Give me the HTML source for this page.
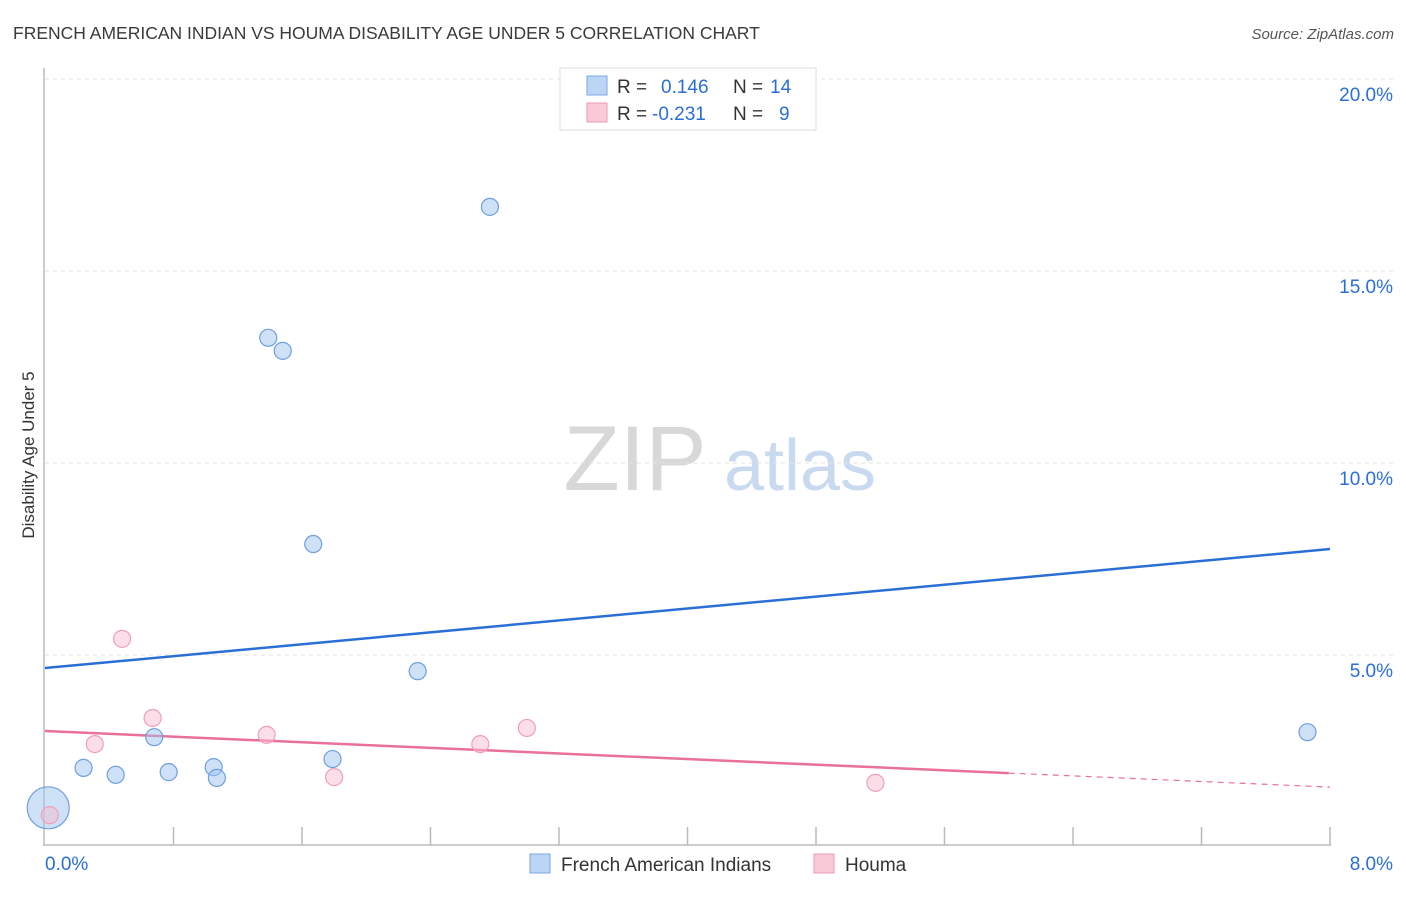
<!DOCTYPE html>
<html><head><meta charset="utf-8"><style>
body{margin:0;background:#fff;font-family:"Liberation Sans",sans-serif;}
svg text{font-family:"Liberation Sans",sans-serif;}
</style></head><body>
<svg id="chart" width="1406" height="892" xmlns="http://www.w3.org/2000/svg">
<text x="13" y="39" font-size="17.5" fill="#3a3a3a">FRENCH AMERICAN INDIAN VS HOUMA DISABILITY AGE UNDER 5 CORRELATION CHART</text>
<text x="1394" y="39" font-size="15" fill="#555" text-anchor="end" font-style="italic">Source: ZipAtlas.com</text>
<text transform="translate(34,455) rotate(-90)" font-size="17" fill="#333" text-anchor="middle">Disability Age Under 5</text>
<g>
<text x="635" y="490" font-size="92" fill="#d8d8d8" font-family="Liberation Serif" text-anchor="middle">ZIP</text>
<text x="800" y="490" font-size="72" fill="#c9daf0" text-anchor="middle">atlas</text>
</g>
<g id="grid"></g>
<g id="axes"></g>
<g id="lines"></g>
<g id="points"></g>
<g>
<rect x="560" y="68" width="256" height="62" fill="#fff" stroke="#ddd"/>
<rect x="587" y="76" width="20" height="19" fill="#bcd5f5" stroke="#7aa7e6"/>
<rect x="587" y="103" width="20" height="19" fill="#f9cbd8" stroke="#ec9ab2"/>
<text x="617" y="93" font-size="19" fill="#333">R =</text>
<text x="661" y="93" font-size="19" fill="#2a6fd6">0.146</text>
<text x="733" y="93" font-size="19" fill="#333">N =</text>
<text x="770" y="93" font-size="19" fill="#2a6fd6">14</text>
<text x="617" y="120" font-size="19" fill="#333">R =</text>
<text x="652" y="120" font-size="19" fill="#2a6fd6">-0.231</text>
<text x="733" y="120" font-size="19" fill="#333">N =</text>
<text x="779" y="120" font-size="19" fill="#2a6fd6">9</text>
</g>
<g>
<rect x="530" y="854" width="20" height="19" fill="#bcd5f5" stroke="#7aa7e6"/>
<text x="561" y="871" font-size="19" fill="#333">French American Indians</text>
<rect x="814" y="854" width="20" height="19" fill="#f9cbd8" stroke="#ec9ab2"/>
<text x="845" y="871" font-size="19" fill="#333">Houma</text>
</g>
</svg>
<script>
const yTicks=[5,10,15,20];
const yTickLabels=["5.0%","10.0%","15.0%","20.0%"];
const xTickLabels=["0.0%","8.0%"];
const blueX=[2.77,1.39,1.48,1.67,2.32,0.68,1.79,0.24,0.44,0.77,1.05,1.07,7.86,0.02];
const blueY=[16.67,13.26,12.92,7.89,4.58,2.86,2.29,2.06,1.88,1.95,2.08,1.80,2.99,1.02];
const pinkX=[0.48,0.67,0.31,1.38,1.80,2.71,3.00,5.17,0.03];
const pinkY=[5.42,3.36,2.68,2.92,1.82,2.68,3.10,1.67,0.83];
const blueLine=[4.66,7.76];
const pinkLine=[3.02,1.56];
const pinkSolidEnd=6.0;
const NS="http://www.w3.org/2000/svg";
const X0=45,X1=1330,Y0=847,Y20=79;
const sx=v=>X0+(X1-X0)*v/8;
const sy=v=>Y0-(Y0-Y20)*v/20;
function mk(t,a,p){const e=document.createElementNS(NS,t);for(const k in a)e.setAttribute(k,a[k]);document.getElementById(p).appendChild(e);return e;}
yTicks.forEach((t,i)=>{
 const l=mk('line',{x1:X0,x2:1394,y1:sy(t),y2:sy(t),stroke:'#e2e2e2','stroke-dasharray':'4,4'},'grid');
 
 
 const tx=mk('text',{x:1393,y:sy(t)+22,'font-size':19,fill:'#2a6fd6','text-anchor':'end'},'grid');
 tx.textContent=yTickLabels[i];
 
 
});
const ya=mk('line',{x1:44,x2:44,y1:68,y2:846,stroke:'#bbb','stroke-width':1.5},'axes');


const xa=mk('line',{x1:44,x2:1331,y1:845,y2:845,stroke:'#bbb','stroke-width':1.5},'axes');


for(let i=1;i<=10;i++){
 const v=i*0.8;
 const t=mk('line',{x1:sx(v),x2:sx(v),y1:827,y2:845,stroke:'#bbb','stroke-width':1.5},'axes');
 
 
}
[[0,'start',45],[8,'end',1393]].forEach((d,i)=>{
 const t=mk('text',{x:d[2],y:870,'font-size':19,fill:'#2a6fd6','text-anchor':d[1]},'axes');
 t.textContent=xTickLabels[i];
 
 
});
const bl=mk('line',{x1:sx(0),y1:sy(blueLine[0]),x2:sx(8),y2:sy(blueLine[1]),stroke:'#2a6fd6','stroke-width':2.5},'lines');


const pAt=v=>pinkLine[0]+(pinkLine[1]-pinkLine[0])*v/8;
const pl=mk('line',{x1:sx(0),y1:sy(pinkLine[0]),x2:sx(pinkSolidEnd),y2:sy(pAt(pinkSolidEnd)),stroke:'#e8709a','stroke-width':2.5},'lines');


const pd=mk('line',{x1:sx(pinkSolidEnd),y1:sy(pAt(pinkSolidEnd)),x2:sx(8),y2:sy(pinkLine[1]),stroke:'#e8709a','stroke-width':1.2,'stroke-dasharray':'6,5'},'lines');


blueX.forEach((x,i)=>{
 const big=i===blueX.length-1;
 const c=mk('circle',{cx:sx(x),cy:sy(blueY[i]),r:big?21:8.5,fill:'rgba(160,196,240,0.5)',stroke:'#6e9fe0','stroke-width':1.2},'points');
 
 
});
pinkX.forEach((x,i)=>{
 const c=mk('circle',{cx:sx(x),cy:sy(pinkY[i]),r:8.5,fill:'rgba(248,190,208,0.5)',stroke:'#eea0b8','stroke-width':1.2},'points');
 
 
});
</script>
</body></html>
